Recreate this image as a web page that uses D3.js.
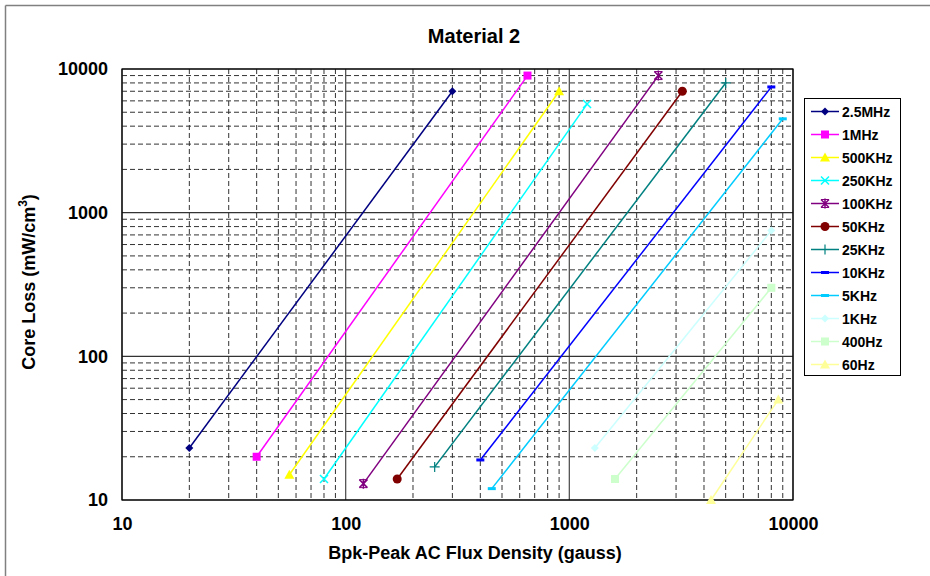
<!DOCTYPE html>
<html>
<head>
<meta charset="utf-8">
<script src="https://cdn.jsdelivr.net/npm/d3@7"></script>
<style>
  body { margin: 0; background: #fff; }
  svg { display: block; font-family: "Liberation Sans", Arial, sans-serif; }
</style>
</head>
<body>
<svg id="chart" width="930" height="576"></svg>
<script>
// series names, colours and marker shapes
const seriesNames = ["2.5MHz", "1MHz", "500KHz", "250KHz", "100KHz", "50KHz", "25KHz", "10KHz", "5KHz", "1KHz", "400Hz", "60Hz"];
const seriesColors = ["#000080", "#ff00ff", "#ffff00", "#00ffff", "#800080", "#800000", "#008080", "#0000ff", "#00ccff", "#ccffff", "#ccffcc", "#ffff99"];
const seriesMarkers = ["diamond", "square", "triangle", "x", "star", "circle", "plus", "dash", "dash", "diamond", "square", "triangle"];

// flux density (gauss) at the two ends of each line
const fluxStart = [20, 40, 56, 80, 120, 170, 250, 400, 450, 1300, 1600, 4300];
const fluxEnd = [300, 650, 900, 1200, 2500, 3200, 5000, 8000, 9000, 8000, 8000, 8600];
// core loss (mW/cm3) at the two ends
const lossStart = [23, 20, 15, 14, 13, 14, 17, 19, 12, 23, 14, 10];
const lossEnd = [7000, 9000, 7000, 5700, 9000, 7000, 8000, 7500, 4500, 750, 300, 50];

const xTicks = [10, 100, 1000, 10000];
const yTicks = [10, 100, 1000, 10000];

const svg = d3.select("#chart");
const margin = {top: 69, right: 137, bottom: 76, left: 122};
const width = 930 - margin.left - margin.right;
const height = 576 - margin.top - margin.bottom;

// outer frame (only left and top visible)
svg.append("line").attr("x1", 5.5).attr("y1", 5.5).attr("x2", 930).attr("y2", 5.5).attr("stroke", "#808080").attr("stroke-width", 1.5);
svg.append("line").attr("x1", 5.5).attr("y1", 5.5).attr("x2", 5.5).attr("y2", 576).attr("stroke", "#808080").attr("stroke-width", 1.5);

const x = d3.scaleLog().domain([10, 10000]).range([0, width]);
const y = d3.scaleLog().domain([10, 10000]).range([height, 0]);

const g = svg.append("g").attr("transform", "translate(" + margin.left + "," + margin.top + ")");

// minor grid (dashed)
let minorX = [], minorY = [];
for (let d = 10; d < 10000; d *= 10) {
    for (let k = 2; k <= 9; k++) { minorX.push(d * k); minorY.push(d * k); }
}
g.append("g").selectAll("line").data(minorX).enter().append("line")
    .attr("x1", d => x(d)).attr("x2", d => x(d)).attr("y1", 0).attr("y2", height)
    .attr("stroke", "#333").attr("stroke-dasharray", "5,3");
g.append("g").selectAll("line").data(minorY).enter().append("line")
    .attr("y1", d => y(d)).attr("y2", d => y(d)).attr("x1", 0).attr("x2", width)
    .attr("stroke", "#333").attr("stroke-dasharray", "5,3");

// major grid (solid)
g.append("g").selectAll("line").data(xTicks).enter().append("line")
    .attr("x1", d => x(d)).attr("x2", d => x(d)).attr("y1", 0).attr("y2", height)
    .attr("stroke", "#555").attr("stroke-width", 1.3);
g.append("g").selectAll("line").data(yTicks).enter().append("line")
    .attr("y1", d => y(d)).attr("y2", d => y(d)).attr("x1", 0).attr("x2", width)
    .attr("stroke", "#333").attr("stroke-width", 1.2);

// plot border
g.append("rect").attr("width", width).attr("height", height)
    .attr("fill", "none").attr("stroke", "#000").attr("stroke-width", 1.2);

// axes (labels only)
const xAxis = g.append("g").attr("transform", "translate(0," + height + ")")
    .call(d3.axisBottom(x).tickValues(xTicks).tickFormat(d3.format("d")).tickSize(0).tickPadding(17));
const yAxis = g.append("g")
    .call(d3.axisLeft(y).tickValues(yTicks).tickFormat(d3.format("d")).tickSize(0).tickPadding(14));
[xAxis, yAxis].forEach(a => {
    a.select(".domain").remove();
    a.selectAll("text").attr("font-size", 18).attr("font-weight", "bold")
        .attr("font-family", "Liberation Sans, Arial, sans-serif").attr("fill", "#000");
});

// marker drawing
function drawMarker(sel, shape, color, cx, cy) {
    const m = sel.append("g").attr("transform", "translate(" + cx + "," + cy + ")");
    if (shape === "diamond") {
        m.append("path").attr("d", "M0,-4L4,0L0,4L-4,0Z").attr("fill", color);
    } else if (shape === "square") {
        m.append("rect").attr("x", -4).attr("y", -4).attr("width", 8).attr("height", 8).attr("fill", color);
    } else if (shape === "triangle") {
        m.append("path").attr("d", "M0,-5L5,4L-5,4Z").attr("fill", color);
    } else if (shape === "x") {
        m.append("path").attr("d", "M-4,-4L4,4M-4,4L4,-4").attr("stroke", color).attr("stroke-width", 1.5);
    } else if (shape === "star") {
        m.append("path").attr("d", "M-4,-4L4,4M-4,4L4,-4M0,-5L0,5").attr("stroke", color).attr("stroke-width", 1.5);
        m.append("path").attr("d", "M-4,-4L4,-4M-4,4L4,4").attr("stroke", color).attr("stroke-width", 1);
    } else if (shape === "circle") {
        m.append("circle").attr("r", 4.5).attr("fill", color);
    } else if (shape === "plus") {
        m.append("path").attr("d", "M-5,0L5,0M0,-5L0,5").attr("stroke", color).attr("stroke-width", 1.2);
    } else if (shape === "dash") {
        m.append("rect").attr("x", -4).attr("y", -1.5).attr("width", 8).attr("height", 3).attr("fill", color);
    }
}

// series lines
seriesNames.forEach((name, i) => {
    const pts = [[fluxStart[i], lossStart[i]], [fluxEnd[i], lossEnd[i]]];
    g.append("path")
        .attr("d", d3.line().x(d => x(d[0])).y(d => y(d[1]))(pts))
        .attr("fill", "none").attr("stroke", seriesColors[i]).attr("stroke-width", 1.5);
    pts.forEach(p => drawMarker(g, seriesMarkers[i], seriesColors[i], x(p[0]), y(p[1])));
});

// title
svg.append("text").attr("x", 474).attr("y", 43).attr("text-anchor", "middle")
    .attr("font-size", 20).attr("font-weight", "bold").text("Material 2");

// axis titles
svg.append("text").attr("x", 475).attr("y", 559).attr("text-anchor", "middle")
    .attr("font-size", 18).attr("font-weight", "bold").text("Bpk-Peak AC Flux Density (gauss)");
const yt = svg.append("text").attr("transform", "translate(35," + 282 + ") rotate(-90)")
    .attr("text-anchor", "middle").attr("font-size", 18).attr("font-weight", "bold");
yt.append("tspan").text("Core Loss (mW/cm");
yt.append("tspan").attr("font-size", 12).attr("dy", -8).text("3");
yt.append("tspan").attr("dy", 8).text(")");

// legend
const legend = svg.append("g").attr("transform", "translate(804,98)");
legend.append("rect").attr("x", 0.5).attr("y", 0.5).attr("width", 96).attr("height", 277)
    .attr("fill", "#fff").attr("stroke", "#000").attr("stroke-width", 1);
seriesNames.forEach((name, i) => {
    const ly = 13.5 + i * 23;
    legend.append("line").attr("x1", 7).attr("x2", 35).attr("y1", ly).attr("y2", ly)
        .attr("stroke", seriesColors[i]).attr("stroke-width", 1.5);
    drawMarker(legend, seriesMarkers[i], seriesColors[i], 21, ly);
    legend.append("text").attr("x", 38).attr("y", ly + 5)
        .attr("font-size", 14).attr("font-weight", "bold").text(name);
});
</script>
</body>
</html>
